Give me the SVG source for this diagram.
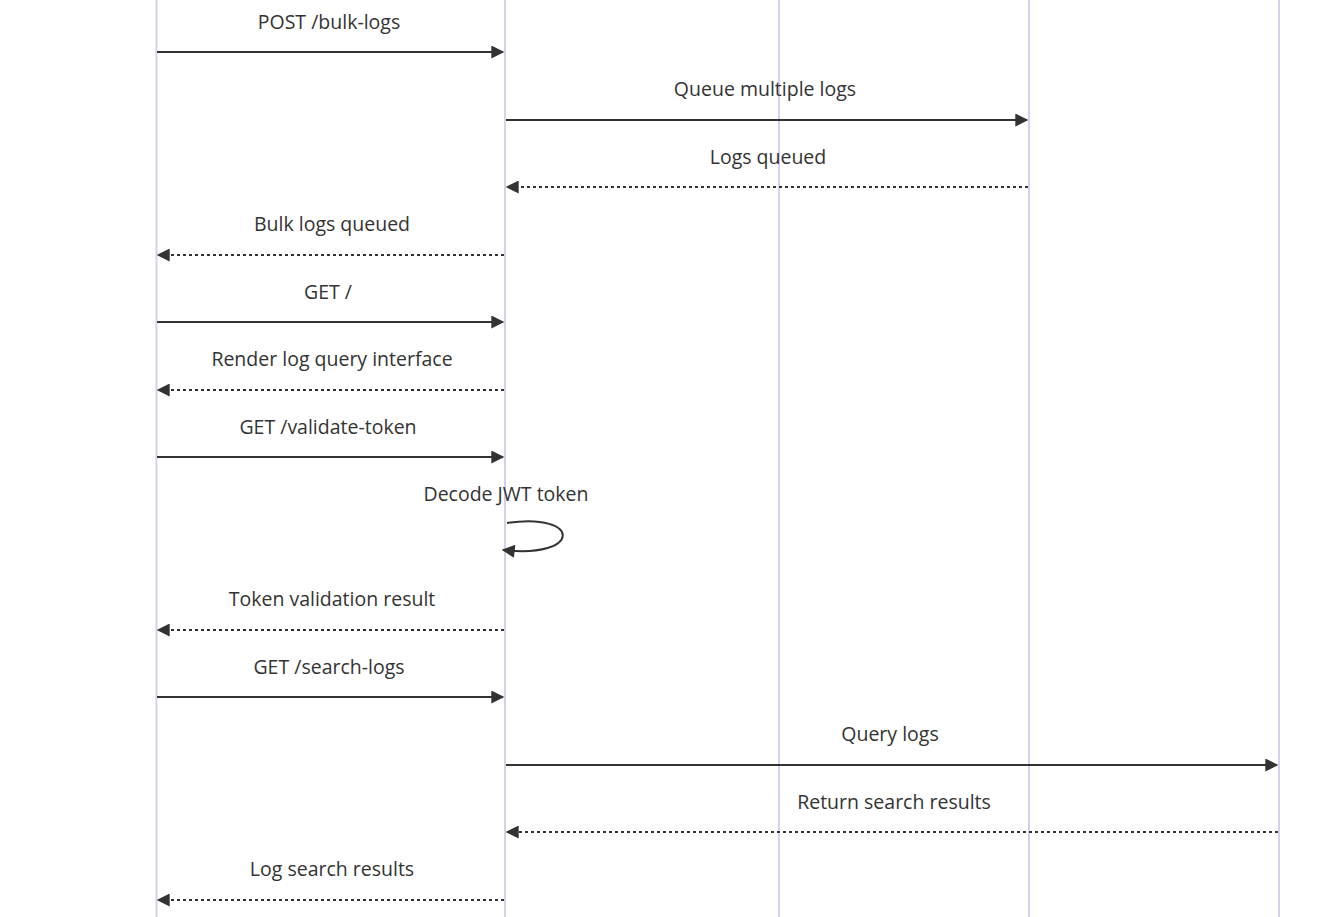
<svg xmlns="http://www.w3.org/2000/svg" width="1337" height="917" viewBox="0 0 1337 917">
<style>
.life{stroke:#d8cef2;stroke-width:2;fill:none}
.msg{stroke:#333;stroke-width:2;fill:none}
.dash{stroke-dasharray:3,3}
.lbl{font-family:"Open Sans","Liberation Sans",sans-serif;font-size:19.5px;fill:#333;text-anchor:middle}
</style>
<defs>
<marker id="arr" viewBox="0 0 10 10" refX="9" refY="5" markerUnits="userSpaceOnUse" markerWidth="14" markerHeight="13" orient="auto">
<path d="M0,0 L10,5 L0,10 z" fill="#333"/>
</marker>
</defs>
<rect width="1337" height="917" fill="#fff"/>
<g id="lifelines">
<line class="life" x1="156.5" y1="0" x2="156.5" y2="917"/>
<line class="life" x1="505" y1="0" x2="505" y2="917"/>
<line class="life" x1="779" y1="0" x2="779" y2="917"/>
<line class="life" x1="1029" y1="0" x2="1029" y2="917"/>
<line class="life" x1="1279" y1="0" x2="1279" y2="917"/>
</g>
<g id="connectors">
<line class="msg" x1="157" y1="52" x2="503" y2="52" marker-end="url(#arr)"/>
<line class="msg" x1="506" y1="120" x2="1027" y2="120" marker-end="url(#arr)"/>
<line class="msg dash" x1="1028" y1="187" x2="507" y2="187" marker-end="url(#arr)"/>
<line class="msg dash" x1="504" y1="255" x2="158" y2="255" marker-end="url(#arr)"/>
<line class="msg" x1="157" y1="322" x2="503" y2="322" marker-end="url(#arr)"/>
<line class="msg dash" x1="504" y1="390" x2="158" y2="390" marker-end="url(#arr)"/>
<line class="msg" x1="157" y1="457" x2="503" y2="457" marker-end="url(#arr)"/>
<path class="msg" d="M507,523 C582,512 582,559 503,550" marker-end="url(#arr)"/>
<line class="msg dash" x1="504" y1="630" x2="158" y2="630" marker-end="url(#arr)"/>
<line class="msg" x1="157" y1="697" x2="503" y2="697" marker-end="url(#arr)"/>
<line class="msg" x1="506" y1="765" x2="1277" y2="765" marker-end="url(#arr)"/>
<line class="msg dash" x1="1278" y1="832" x2="507" y2="832" marker-end="url(#arr)"/>
<line class="msg dash" x1="504" y1="900" x2="158" y2="900" marker-end="url(#arr)"/>
</g>
<g id="labels">
<text class="lbl" x="329" y="28.5">POST /bulk-logs</text>
<text class="lbl" x="765" y="96">Queue multiple logs</text>
<text class="lbl" x="768" y="163.5">Logs queued</text>
<text class="lbl" x="332" y="231">Bulk logs queued</text>
<text class="lbl" x="328" y="298.5">GET /</text>
<text class="lbl" x="332" y="366">Render log query interface</text>
<text class="lbl" x="328" y="433.5">GET /validate-token</text>
<text class="lbl" x="506" y="501">Decode JWT token</text>
<text class="lbl" x="332" y="606">Token validation result</text>
<text class="lbl" x="329" y="673.5">GET /search-logs</text>
<text class="lbl" x="890" y="741">Query logs</text>
<text class="lbl" x="894" y="808.5">Return search results</text>
<text class="lbl" x="332" y="876">Log search results</text>
</g>
</svg>
